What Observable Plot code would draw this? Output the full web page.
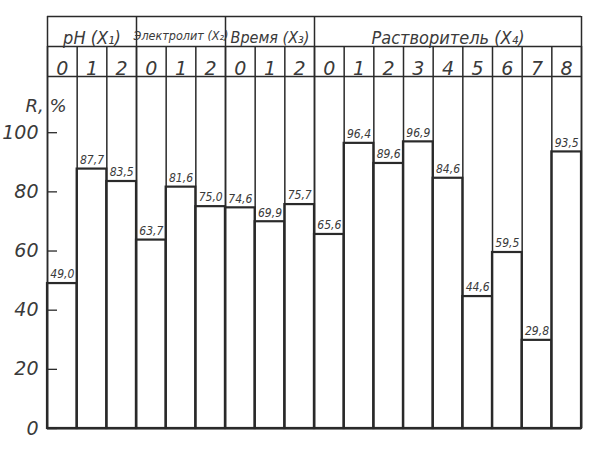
<!DOCTYPE html>
<html>
<head>
<meta charset="utf-8">
<script src="https://cdn.jsdelivr.net/npm/d3@7"></script>
<script src="https://cdn.jsdelivr.net/npm/@observablehq/plot@0.6"></script>
<style>
  html, body { margin: 0; padding: 0; background: #fff; }
  #chart svg { display: block; }
</style>
</head>
<body>
<div id="chart"></div>
<script>
// ---- data ----
const groupNames = ["pH (X₁)", "Электролит (X₂)", "Время (X₃)", "Растворитель (X₄)"];
const levelsX1 = ["0", "1", "2"];
const levelsX2 = ["0", "1", "2"];
const levelsX3 = ["0", "1", "2"];
const levelsX4 = ["0", "1", "2", "3", "4", "5", "6", "7", "8"];
const valuesX1 = [49.0, 87.7, 83.5];
const valuesX2 = [63.7, 81.6, 75.0];
const valuesX3 = [74.6, 69.9, 75.7];
const valuesX4 = [65.6, 96.4, 89.6, 96.9, 84.6, 44.6, 59.5, 29.8, 93.5];
const yTicks = [0, 20, 40, 60, 80, 100];
const yLabel = "R, %";

// ---- table ----
const levelSets = [levelsX1, levelsX2, levelsX3, levelsX4];
const valueSets = [valuesX1, valuesX2, valuesX3, valuesX4];
const rows = [];
const groups = [];
let idx = 0;
levelSets.forEach((levels, g) => {
  const start = idx;
  levels.forEach((lv, j) => {
    rows.push({group: groupNames[g], level: lv, i: idx, value: valueSets[g][j]});
    idx++;
  });
  groups.push({name: groupNames[g], start, end: idx});
});
const nCols = idx;
const colBounds = d3.range(nCols + 1);
const groupBounds = [0, ...groups.map(g => g.end)];

const W = 600, H = 453;
const mL = 47, mR = 19, mT = 76, mB = 25;
const yMax = 119;
const fmt = v => v.toFixed(1).replace(".", ",");
const ink = "#2a2a2a";
const txt = "#3a3a3a";
const font = "'DejaVu Sans Condensed','Liberation Sans',sans-serif";
const light = "'DejaVu Sans','Liberation Sans',sans-serif";
const groupSize = d => d.name.startsWith("Электролит") ? 12.5 : (d.name.startsWith("Время") ? 16 : 18);

const chart = Plot.plot({
  width: W, height: H,
  marginLeft: mL, marginRight: mR, marginTop: mT, marginBottom: mB,
  x: {domain: [0, nCols], axis: null},
  y: {domain: [0, yMax], axis: null},
  style: {fontFamily: font, background: "#fff", color: ink},
  marks: [
    // bars
    Plot.rectY(rows, {x1: d => d.i, x2: d => d.i + 1, y1: 0, y2: "value", fill: "white", stroke: ink, strokeWidth: 2.2}),
    // column lines through plot and second header row
    Plot.ruleX(colBounds, {x: d => d, stroke: ink, strokeWidth: 1.5, insetTop: -30}),
    // group lines through first header row
    Plot.ruleX(groupBounds, {x: d => d, stroke: ink, strokeWidth: 1.5, insetTop: -60}),
    // horizontal header lines
    Plot.ruleY([yMax], {stroke: ink, strokeWidth: 1.5}),
    Plot.ruleY([yMax], {stroke: ink, strokeWidth: 1.5, dy: -30}),
    Plot.ruleY([yMax], {stroke: ink, strokeWidth: 1.5, dy: -60}),
    Plot.ruleY([0], {stroke: ink, strokeWidth: 2.2}),
    // header texts
    Plot.text(groups, {x: d => (d.start + d.end) / 2, text: "name", frameAnchor: "top", dy: -45,
      fontSize: groupSize, fontStyle: "italic", fill: txt,
      fontFamily: d => d.name.startsWith("Электролит") || d.name.startsWith("Время") ? font : light}),
    Plot.text(rows, {x: d => d.i + 0.5, text: "level", frameAnchor: "top", dy: -15,
      fontSize: 19, fontStyle: "italic", fill: txt, fontFamily: light}),
    // value labels
    Plot.text(rows, {x: d => d.i + 0.5, y: "value", text: d => fmt(d.value), dy: -9,
      fontSize: 12, fontStyle: "italic", fill: txt}),
    // y ticks (inward)
    Plot.tickY(yTicks, {y: d => d, stroke: ink, strokeWidth: 1.3, insetRight: W - mL - mR - 10}),
    Plot.axisY(yTicks, {ticks: yTicks, tickSize: 0, tickPadding: 9, fontSize: 19, fontStyle: "italic",
      fontFamily: light, fill: txt, label: null}),
    // y label
    Plot.text([yLabel], {text: d => d, frameAnchor: "top-left", dx: -22, dy: 23, fontSize: 18,
      fontStyle: "italic", fill: txt, fontFamily: light})
  ]
});
document.getElementById("chart").appendChild(chart);
</script>
</body>
</html>
